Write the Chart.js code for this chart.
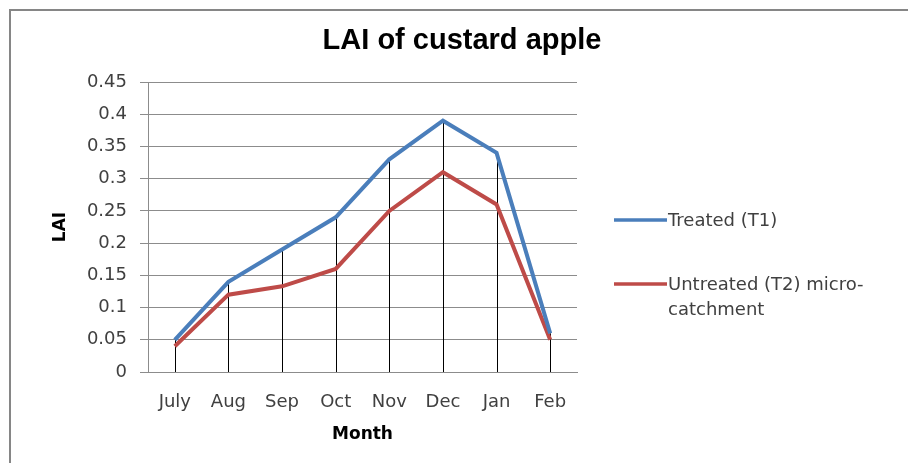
<!DOCTYPE html>
<html>
<head>
<meta charset="utf-8">
<title>LAI of custard apple</title>
<script src="https://cdn.jsdelivr.net/npm/chart.js@4"></script>
<style>
    body { margin: 0; background: #fff; }
    #wrap { position: relative; width: 908px; height: 463px; overflow: hidden; }
    #frame { position: absolute; left: 9px; top: 9px; width: 1000px; height: 1000px; border: 2px solid #868686; }
    #chart { position: absolute; left: 0; top: 0; }
</style>
</head>
<body>
<div id="wrap">
    <div id="frame"></div>
    <canvas id="chart" width="908" height="463"></canvas>
</div>
<script>
// chart values
var months = ["July", "Aug", "Sep", "Oct", "Nov", "Dec", "Jan", "Feb"];
var treatedT1 = [0.05, 0.14, 0.19, 0.24, 0.33, 0.39, 0.34, 0.06];
var untreatedT2 = [0.04, 0.12, 0.133, 0.16, 0.25, 0.31, 0.26, 0.05];
var seriesNames = ["Treated (T1)", ["Untreated (T2) micro-", "catchment"]];
var chartTitle = "LAI of custard apple";

var blue = "#4a7ebb";
var red = "#be4b48";
var tickFont = { family: "DejaVu Sans", size: 18 };
var boldFont = { family: "DejaVu Sans", size: 17, weight: "bold" };

// black drop lines from the highest point down to the axis
var dropLines = {
    id: "dropLines",
    beforeDatasetsDraw: function (chart) {
        var ctx = chart.ctx;
        var x = chart.scales.x, y = chart.scales.y;
        ctx.save();
        ctx.strokeStyle = "#000";
        ctx.lineWidth = 1;
        months.forEach(function (m, i) {
            var top = Math.max(treatedT1[i], untreatedT2[i]);
            var px = Math.round(x.getPixelForValue(i)) + 0.5;
            ctx.beginPath();
            ctx.moveTo(px, y.getPixelForValue(top));
            ctx.lineTo(px, y.getPixelForValue(0));
            ctx.stroke();
        });
        ctx.restore();
    }
};

// title and the legend on the right, drawn the way the picture has them
var titleAndLegend = {
    id: "titleAndLegend",
    afterDraw: function (chart) {
        var ctx = chart.ctx;
        ctx.save();
        ctx.fillStyle = "#000";
        ctx.font = "bold 29px 'Liberation Sans'";
        ctx.textAlign = "center";
        ctx.textBaseline = "middle";
        ctx.fillText(chartTitle, 462, 41);

        var items = [
            { color: blue, y: 220, text: seriesNames[0] },
            { color: red, y: 284, text: seriesNames[1] }
        ];
        ctx.font = "18px 'DejaVu Sans'";
        ctx.textAlign = "left";
        items.forEach(function (it) {
            ctx.strokeStyle = it.color;
            ctx.lineWidth = 3.5;
            ctx.beginPath();
            ctx.moveTo(614, it.y);
            ctx.lineTo(667, it.y);
            ctx.stroke();
            ctx.fillStyle = "#404040";
            var lines = Array.isArray(it.text) ? it.text : [it.text];
            lines.forEach(function (line, k) {
                ctx.fillText(line, 668, it.y + 1 + k * 25);
            });
        });
        ctx.restore();
    }
};

new Chart(document.getElementById("chart"), {
    type: "line",
    data: {
        labels: months,
        datasets: [{
            label: "Treated (T1)",
            data: treatedT1,
            borderColor: blue,
            borderWidth: 4,
            pointRadius: 0,
            tension: 0
        }, {
            label: "Untreated (T2) micro-catchment",
            data: untreatedT2,
            borderColor: red,
            borderWidth: 4,
            pointRadius: 0,
            tension: 0
        }]
    },
    options: {
        responsive: false,
        animation: false,
        layout: { padding: { left: 40, right: 331, top: 82, bottom: 11 } },
        plugins: {
            legend: { display: false },
            title: { display: false },
            tooltip: { enabled: false }
        },
        scales: {
            x: {
                offset: true,
                grid: { display: false },
                border: { display: true, color: "#8c8c8c" },
                ticks: { font: tickFont, color: "#404040", padding: 12, maxRotation: 0 },
                title: { display: true, text: "Month", font: boldFont, color: "#000", padding: 7 },
                afterFit: function (s) { s.height = 80; }
            },
            y: {
                min: 0,
                max: 0.45,
                grid: { color: "#8c8c8c", tickLength: 8 },
                border: { display: true, color: "#8c8c8c" },
                ticks: {
                    stepSize: 0.05,
                    font: tickFont,
                    color: "#404040",
                    padding: 13,
                    callback: function (v) { return String(Number(v.toFixed(2))); }
                },
                title: { display: true, text: "LAI", font: boldFont, color: "#000", padding: 10 },
                afterFit: function (s) { s.width = 108; }
            }
        }
    },
    plugins: [dropLines, titleAndLegend]
});
</script>
</body>
</html>
